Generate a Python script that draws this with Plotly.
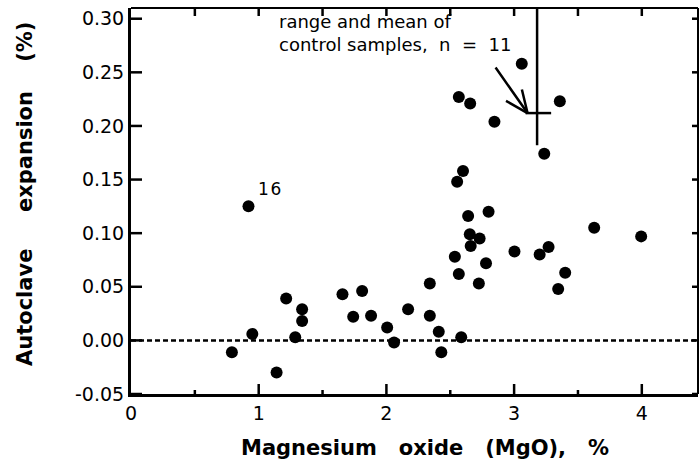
import plotly.graph_objects as go

# MgO (%) and autoclave expansion (%)
mgo = [0.79, 0.92, 0.95, 1.14, 1.215, 1.286, 1.34, 1.34, 1.656, 1.74, 1.81, 1.88,
       2.006, 2.06, 2.17, 2.34, 2.34, 2.41, 2.43, 2.536, 2.554, 2.567, 2.567, 2.586,
       2.60, 2.64, 2.653, 2.656, 2.66, 2.724, 2.73, 2.78, 2.80, 2.846, 3.003, 3.06,
       3.20, 3.236, 3.27, 3.345, 3.358, 3.40, 3.627, 3.995]
expansion = [-0.011, 0.125, 0.006, -0.030, 0.039, 0.003, 0.029, 0.018, 0.043, 0.022, 0.046, 0.023,
             0.012, -0.002, 0.029, 0.053, 0.023, 0.008, -0.011, 0.078, 0.148, 0.227, 0.062, 0.003,
             0.158, 0.116, 0.099, 0.221, 0.088, 0.053, 0.095, 0.072, 0.120, 0.204, 0.083, 0.258,
             0.080, 0.174, 0.087, 0.048, 0.223, 0.063, 0.105, 0.097]

# control samples: range (vertical bar) and mean (horizontal bar)
control_x = 3.18
control_range = [0.182, 0.31]
control_mean = 0.212
control_mean_span = [3.09, 3.29]

labelled_point = ("16", 0.92, 0.125)

x_range = [0, 4.44]
y_range = [-0.05, 0.31]
x_ticks = [0, 1, 2, 3, 4]
x_minor_ticks = [0.5, 1.5, 2.5, 3.5]
x_top_ticks = [0.5, 1.0, 1.5, 2.0, 2.5, 3.0, 3.5, 4.0]
y_ticks = [-0.05, 0.0, 0.05, 0.10, 0.15, 0.20, 0.25, 0.30]

FONT = "DejaVu Sans"
PLOT_W, PLOT_H = 567, 386

fig = go.Figure()

fig.add_trace(go.Scatter(x=mgo, y=expansion, mode="markers",
                         marker=dict(color="black", size=12), showlegend=False))

fig.add_trace(go.Scatter(x=[control_x, control_x], y=control_range, mode="lines",
                         line=dict(color="black", width=2.5), showlegend=False))
fig.add_trace(go.Scatter(x=control_mean_span, y=[control_mean, control_mean], mode="lines",
                         line=dict(color="black", width=2.5), showlegend=False))

# dashed zero line
fig.add_shape(type="line", xref="x domain", yref="y", x0=0, x1=1, y0=0, y1=0,
              line=dict(color="black", width=2.5, dash="5px,3px"))

# frame: top and right (thinner than the main axes)
fig.add_shape(type="line", xref="paper", yref="paper", x0=0, x1=1, y0=1, y1=1,
              line=dict(color="black", width=2))
fig.add_shape(type="line", xref="paper", yref="paper", x0=1, x1=1, y0=0, y1=1,
              line=dict(color="black", width=2))

tick_line = dict(color="black", width=2.5)
# bottom ticks (major and minor), pointing inward
for v in x_ticks[1:]:
    fig.add_shape(type="line", xref="x", yref="y domain", x0=v, x1=v, y0=0, y1=10 / PLOT_H, line=tick_line)
for v in x_minor_ticks:
    fig.add_shape(type="line", xref="x", yref="y domain", x0=v, x1=v, y0=0, y1=4 / PLOT_H, line=tick_line)
# top ticks
for v in x_top_ticks:
    fig.add_shape(type="line", xref="x", yref="y domain", x0=v, x1=v, y0=1, y1=1 - 8 / PLOT_H, line=tick_line)
# left and right ticks
for v in y_ticks:
    fig.add_shape(type="line", xref="x domain", yref="y", x0=0, x1=11 / PLOT_W, y0=v, y1=v, line=tick_line)
    fig.add_shape(type="line", xref="x domain", yref="y", x0=1, x1=1 - 6 / PLOT_W, y0=v, y1=v, line=tick_line)

# arrow pointing to control mean: shaft and two barbs
tip_x, tip_y = 3.105, control_mean
for ax, ay in [(-33, -47), (-6, -25), (-23, -13)]:
    fig.add_annotation(x=tip_x, y=tip_y, xref="x", yref="y", text="", showarrow=True,
                       ax=ax, ay=ay, axref="pixel", ayref="pixel",
                       arrowhead=0, arrowwidth=2.5, arrowcolor="black", standoff=0, startstandoff=0)

fig.add_annotation(x=(277 - 131) / PLOT_W, y=(463 - 69 - 9) / PLOT_H, xref="paper", yref="paper",
                   xanchor="left", yanchor="top", align="left", showarrow=False,
                   text="range and mean of<br>control samples,  n  =  11",
                   font=dict(family=FONT, size=18, color="black"))

fig.add_annotation(x=labelled_point[1], y=labelled_point[2], xref="x", yref="y",
                   text="1\u200a6", showarrow=False, xanchor="left", yanchor="bottom",
                   xshift=8, yshift=5, font=dict(family=FONT, size=17, color="black"))

# axis titles
fig.add_annotation(x=(425 - 131) / PLOT_W, y=-(448 - 394) / PLOT_H, xref="paper", yref="paper",
                   text="<b>Magnesium\u00a0\u00a0\u00a0oxide\u00a0\u00a0\u00a0(MgO),\u00a0\u00a0\u00a0%</b>",
                   showarrow=False, xanchor="center", yanchor="middle",
                   font=dict(family=FONT, size=21, color="black"))
fig.add_annotation(x=-(131 - 25) / PLOT_W, y=(394 - 194) / PLOT_H, xref="paper", yref="paper",
                   text="<b>Autoclave\u00a0\u00a0\u00a0\u00a0\u00a0expansion\u00a0\u00a0\u00a0\u00a0(%)</b>",
                   showarrow=False, xanchor="center", yanchor="middle", textangle=-90,
                   font=dict(family=FONT, size=21, color="black"))

tickfont = dict(family=FONT, size=19, color="black")

fig.update_layout(
    width=699, height=463,
    margin=dict(l=131, r=1, t=8, b=69),
    paper_bgcolor="white", plot_bgcolor="white",
    showlegend=False,
    xaxis=dict(range=x_range, tickvals=x_ticks, ticktext=[str(v) for v in x_ticks],
               showgrid=False, zeroline=False, showline=True, linecolor="black", linewidth=3,
               ticks="", tickfont=tickfont, fixedrange=True),
    yaxis=dict(range=y_range, tickvals=y_ticks, ticktext=[f"{v:.2f}" for v in y_ticks],
               showgrid=False, zeroline=False, showline=True, linecolor="black", linewidth=3,
               ticks="", tickfont=tickfont, fixedrange=True),
)

fig.write_html("out.html")
